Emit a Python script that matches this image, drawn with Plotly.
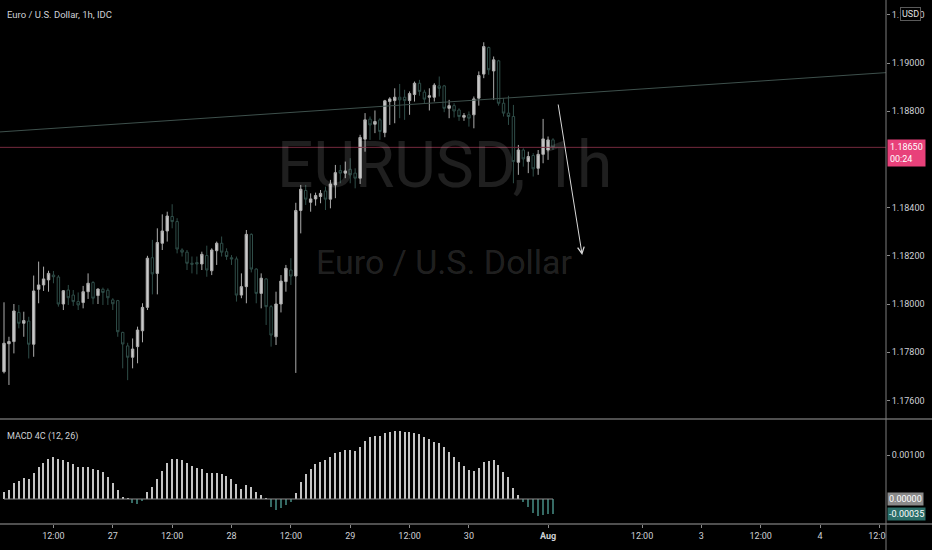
import plotly.graph_objects as go

# ---------------- data ----------------
opens = [1.17719, 1.17835, 1.17844, 1.17965, 1.17920, 1.17929, 1.17833, 1.18061, 1.18079, 1.18100,
         1.18120, 1.18112, 1.18000, 1.18058, 1.18037, 1.18010, 1.18006, 1.18051, 1.18089, 1.18035,
         1.18061, 1.18057, 1.18017, 1.18014, 1.17882, 1.17826, 1.17779, 1.17823, 1.17889, 1.17986,
         1.18192, 1.18127, 1.18252, 1.18303, 1.18363, 1.18342, 1.18224, 1.18215, 1.18169, 1.18172,
         1.18166, 1.18201, 1.18138, 1.18221, 1.18252, 1.18217, 1.18192, 1.18187, 1.18037, 1.18072,
         1.18289, 1.18145, 1.18044, 1.18104, 1.17989, 1.17864, 1.18000, 1.18093, 1.18141, 1.18116,
         1.18388, 1.18471, 1.18422, 1.18436, 1.18446, 1.18469, 1.18435, 1.18494, 1.18554, 1.18543,
         1.18559, 1.18543, 1.18522, 1.18684, 1.18767, 1.18746, 1.18764, 1.18711, 1.18840, 1.18844,
         1.18858, 1.18858, 1.18844, 1.18869, 1.18916, 1.18879, 1.18858, 1.18858, 1.18905, 1.18905,
         1.18812, 1.18823, 1.18805, 1.18775, 1.18785, 1.18785, 1.18854, 1.18954, 1.19064, 1.18967,
         1.19009, 1.18833, 1.18792, 1.18778, 1.18588, 1.18639, 1.18591, 1.18616, 1.18563, 1.18621,
         1.18639, 1.18681]
highs = [1.18007, 1.17864, 1.18000, 1.17996, 1.17968, 1.17947, 1.18118, 1.18176, 1.18155, 1.18138,
         1.18137, 1.18120, 1.18058, 1.18079, 1.18058, 1.18048, 1.18075, 1.18127, 1.18095, 1.18065,
         1.18068, 1.18065, 1.18024, 1.18017, 1.17885, 1.17839, 1.17857, 1.17906, 1.18003, 1.18200,
         1.18266, 1.18314, 1.18372, 1.18383, 1.18414, 1.18356, 1.18231, 1.18224, 1.18197, 1.18197,
         1.18217, 1.18242, 1.18231, 1.18259, 1.18280, 1.18231, 1.18203, 1.18197, 1.18127, 1.18307,
         1.18293, 1.18148, 1.18127, 1.18107, 1.17996, 1.18051, 1.18120, 1.18162, 1.18190, 1.18420,
         1.18494, 1.18494, 1.18459, 1.18462, 1.18473, 1.18487, 1.18515, 1.18577, 1.18577, 1.18591,
         1.18605, 1.18563, 1.18702, 1.18792, 1.18778, 1.18803, 1.18771, 1.18847, 1.18858, 1.18895,
         1.18913, 1.18889, 1.18882, 1.18923, 1.18930, 1.18889, 1.18895, 1.18916, 1.18944, 1.18909,
         1.18847, 1.18833, 1.18812, 1.18792, 1.18799, 1.18861, 1.18965, 1.19086, 1.19068, 1.19027,
         1.19013, 1.18854, 1.18864, 1.18826, 1.18660, 1.18646, 1.18632, 1.18626, 1.18639, 1.18768,
         1.18695, 1.18688]
lows = [1.17712, 1.17664, 1.17795, 1.17899, 1.17864, 1.17774, 1.17781, 1.18003, 1.18054, 1.18051,
        1.18086, 1.17989, 1.17975, 1.17996, 1.17992, 1.17975, 1.17982, 1.18021, 1.17999, 1.18000,
        1.17996, 1.17996, 1.17975, 1.17864, 1.17733, 1.17684, 1.17733, 1.17754, 1.17841, 1.17975,
        1.18040, 1.18040, 1.18224, 1.18259, 1.18314, 1.18210, 1.18197, 1.18141, 1.18127, 1.18123,
        1.18141, 1.18113, 1.18120, 1.18162, 1.18197, 1.18183, 1.18162, 1.18010, 1.18024, 1.18003,
        1.18131, 1.18003, 1.17982, 1.17913, 1.17823, 1.17830, 1.17965, 1.18051, 1.18079, 1.17714,
        1.18293, 1.18411, 1.18383, 1.18408, 1.18418, 1.18390, 1.18397, 1.18439, 1.18501, 1.18522,
        1.18501, 1.18480, 1.18498, 1.18632, 1.18681, 1.18709, 1.18681, 1.18692, 1.18743, 1.18750,
        1.18771, 1.18764, 1.18785, 1.18840, 1.18864, 1.18830, 1.18803, 1.18840, 1.18861, 1.18796,
        1.18771, 1.18774, 1.18760, 1.18760, 1.18736, 1.18729, 1.18823, 1.18937, 1.18951, 1.18847,
        1.18823, 1.18778, 1.18743, 1.18501, 1.18536, 1.18570, 1.18543, 1.18529, 1.18536, 1.18584,
        1.18598, 1.18639]
closes = [1.17837, 1.17844, 1.17971, 1.17920, 1.17931, 1.17833, 1.18054, 1.18079, 1.18104, 1.18127,
          1.18113, 1.18000, 1.18055, 1.18026, 1.18010, 1.17996, 1.18051, 1.18086, 1.18024, 1.18062,
          1.18048, 1.18026, 1.18001, 1.17885, 1.17834, 1.17779, 1.17813, 1.17892, 1.17986, 1.18190,
          1.18125, 1.18255, 1.18303, 1.18365, 1.18342, 1.18228, 1.18215, 1.18169, 1.18165, 1.18166,
          1.18206, 1.18141, 1.18224, 1.18252, 1.18215, 1.18197, 1.18187, 1.18037, 1.18072, 1.18289,
          1.18145, 1.18044, 1.18107, 1.17989, 1.17871, 1.18000, 1.18095, 1.18148, 1.18116, 1.18388,
          1.18476, 1.18435, 1.18436, 1.18450, 1.18459, 1.18435, 1.18498, 1.18545, 1.18543, 1.18552,
          1.18536, 1.18522, 1.18691, 1.18764, 1.18743, 1.18757, 1.18716, 1.18843, 1.18851, 1.18858,
          1.18847, 1.18844, 1.18873, 1.18916, 1.18882, 1.18850, 1.18864, 1.18908, 1.18895, 1.18812,
          1.18823, 1.18801, 1.18778, 1.18782, 1.18771, 1.18851, 1.18948, 1.19068, 1.18972, 1.19013,
          1.18833, 1.18792, 1.18778, 1.18591, 1.18639, 1.18602, 1.18612, 1.18561, 1.18621, 1.18685,
          1.18681, 1.18650]

macd_hist = [0.000167, 0.000205, 0.000356, 0.000417, 0.000485, 0.000455, 0.000599, 0.000720, 0.000826, 0.000910,
             0.000963, 0.000902, 0.000887, 0.000849, 0.000796, 0.000735, 0.000720, 0.000720, 0.000675, 0.000659,
             0.000614, 0.000508, 0.000356, 0.000205, 0.000038, 0.000008, -0.000083, -0.000121, -0.000045, 0.000159,
             0.000265, 0.000447, 0.000637, 0.000811, 0.000910, 0.000910, 0.000887, 0.000811, 0.000750, 0.000697,
             0.000675, 0.000599, 0.000599, 0.000599, 0.000569, 0.000531, 0.000455, 0.000341, 0.000227, 0.000318,
             0.000265, 0.000167, 0.000091, 0.000015, -0.000174, -0.000250, -0.000212, -0.000136, -0.000061, 0.000144,
             0.000394, 0.000569, 0.000682, 0.000796, 0.000849, 0.000887, 0.000963, 0.001038, 0.001076, 0.001114,
             0.001114, 0.001099, 0.001190, 0.001319, 0.001402, 0.001433, 0.001433, 0.001493, 0.001524, 0.001554,
             0.001554, 0.001531, 0.001524, 0.001508, 0.001478, 0.001417, 0.001357, 0.001304, 0.001281, 0.001175,
             0.001076, 0.000963, 0.000849, 0.000750, 0.000659, 0.000644, 0.000697, 0.000834, 0.000864, 0.000887,
             0.000773, 0.000622, 0.000493, 0.000243, 0.000091, -0.000061, -0.000174, -0.000326, -0.000379, -0.000364,
             -0.000349, -0.000349]

bar_index = list(range(len(opens)))

xtick_pos = [10, 22, 34, 46, 58, 70, 82, 94, 110, 129, 141, 153, 165, 177]
xtick_text = ["12:00", "27", "12:00", "28", "12:00", "29", "12:00", "30", "<b>Aug</b>",
              "12:00", "3", "12:00", "4", "12:00"]
# 1.18600 is hidden behind the last-price label in the reference
price_ticks = [1.176, 1.178, 1.180, 1.182, 1.184, 1.188, 1.190, 1.192]
macd_ticks = [0.001]

trend_x = [-0.81, 178.33]
trend_y = [1.18714, 1.18960]
arrow_x = [112.0, 116.9]
arrow_y = [1.18834, 1.18203]

x_range = [-0.81, 178.33]
price_range = [1.175228, 1.192614]
macd_range = [-0.000568, 0.001818]

# ---------------- styling ----------------
W, H = 932, 550
ML, MR, MT, MB = 0, 46, 0, 26
PW, PH = W - ML - MR, H - MT - MB
split = 105 / PH
FONT = "Roboto, Liberation Sans, sans-serif"
TXT = "#cfd1d6"
LINE = "#9e9e9e"

pos_col = "#c4c4c4"
neg_col = "#356a64"
bar_colors = [pos_col if v >= 0 else neg_col for v in macd_hist]

fig = go.Figure()

fig.add_trace(go.Candlestick(
    x=bar_index, open=opens, high=highs, low=lows, close=closes,
    increasing=dict(line=dict(color="#acacac", width=1), fillcolor="#cacaca"),
    decreasing=dict(line=dict(color="#2f4d48", width=1), fillcolor="#000000"),
    whiskerwidth=0, hoverinfo="skip", xaxis="x", yaxis="y", showlegend=False,
))

fig.add_trace(go.Bar(
    x=bar_index, y=macd_hist, marker=dict(color=bar_colors, line=dict(width=0)),
    width=0.25, xaxis="x", yaxis="y2", showlegend=False, hoverinfo="skip",
))

shapes = [
    dict(type="line", xref="x", yref="y2", x0=bar_index[0], x1=bar_index[-1], y0=0, y1=0,
         line=dict(color="#8c8c8c", width=1)),
    dict(type="line", xref="paper", yref="y", x0=0, x1=1, y0=closes[-1], y1=closes[-1],
         line=dict(color="#742a3e", width=1)),
    dict(type="line", xref="x", yref="y", x0=trend_x[0], x1=trend_x[1], y0=trend_y[0], y1=trend_y[1],
         line=dict(color="#3e504c", width=1)),
    dict(type="rect", xref="paper", yref="paper", x0=1, x1=W / PW, y0=-MB / PH, y1=0,
         fillcolor="#000000", line=dict(width=0), layer="above"),
    dict(type="line", xref="paper", yref="paper", x0=0, x1=W / PW, y0=split, y1=split,
         line=dict(color=LINE, width=1), layer="above"),
    dict(type="line", xref="paper", yref="paper", x0=0, x1=W / PW, y0=0, y1=0,
         line=dict(color=LINE, width=1), layer="above"),
    dict(type="line", xref="paper", yref="paper", x0=1, x1=1, y0=-MB / PH, y1=1,
         line=dict(color="#7d7d7d", width=1), layer="above"),
]

annotations = [
    dict(text="EURUSD, 1h", xref="paper", yref="paper", x=445 / PW, y=1 - 166 / PH,
         xanchor="center", yanchor="middle",
         showarrow=False, font=dict(family=FONT, size=64, color="rgba(255,255,255,0.12)")),
    dict(text="Euro / U.S. Dollar", xref="paper", yref="paper", x=444 / PW, y=1 - 262 / PH,
         xanchor="center", yanchor="middle",
         showarrow=False, font=dict(family=FONT, size=34, color="rgba(255,255,255,0.14)")),
    dict(text="Euro / U.S. Dollar, 1h, IDC", xref="paper", yref="paper", x=5 / PW, y=1 - 15 / PH,
         xanchor="left", yanchor="middle", showarrow=False, font=dict(family=FONT, size=9.5, color=TXT)),
    dict(text="MACD 4C (12, 26)", xref="paper", yref="paper", x=5 / PW, y=1 - 436 / PH,
         xanchor="left", yanchor="middle", showarrow=False, font=dict(family=FONT, size=9, color=TXT)),
    dict(text="USD", xref="paper", yref="paper", x=900 / PW, y=1 - 14 / PH, xanchor="left", yanchor="middle",
         showarrow=False, font=dict(family=FONT, size=9, color="#e0e0e0"), bgcolor="#000000",
         bordercolor="#5a5a5a", borderwidth=1, borderpad=1),
    dict(text=f"{closes[-1]:.5f}<br>00:24", xref="paper", yref="y", x=887 / PW, y=closes[-1],
         xanchor="left", yanchor="top", yshift=8, align="left", showarrow=False,
         font=dict(family=FONT, size=9, color="#ffffff"), bgcolor="#e8417a", borderpad=2),
    dict(text=f"{0:.5f}", xref="paper", yref="y2", x=887 / PW, y=0, xanchor="left", yanchor="middle",
         showarrow=False, font=dict(family=FONT, size=9, color="#ffffff"), bgcolor="#8a8a8a", borderpad=1),
    dict(text=f"{macd_hist[-1]:.5f}", xref="paper", yref="y2", x=887 / PW, y=macd_hist[-1],
         xanchor="left", yanchor="middle", showarrow=False,
         font=dict(family=FONT, size=9, color="#ffffff"), bgcolor="#2b6e68", borderpad=1),
    dict(text="", x=arrow_x[1], y=arrow_y[1], ax=arrow_x[0], ay=arrow_y[0], xref="x", yref="y",
         axref="x", ayref="y", showarrow=True, arrowhead=5, arrowsize=1.3, arrowwidth=1,
         arrowcolor="#d8d8d8", standoff=0, startstandoff=0),
]

fig.update_layout(
    width=W, height=H,
    margin=dict(l=ML, r=MR, t=MT, b=MB, pad=0),
    paper_bgcolor="#000000", plot_bgcolor="#000000",
    font=dict(family=FONT, size=9, color=TXT),
    showlegend=False, bargap=0,
    shapes=shapes, annotations=annotations,
    xaxis=dict(domain=[0, 1], range=x_range, anchor="y2", showgrid=False, zeroline=False,
               tickmode="array", tickvals=xtick_pos, ticktext=xtick_text,
               ticks="outside", ticklen=3, tickcolor="#8a8a8a",
               tickfont=dict(family=FONT, size=9, color=TXT),
               rangeslider=dict(visible=False), showline=False, fixedrange=True),
    yaxis=dict(domain=[split, 1], range=price_range, side="right", anchor="x", showgrid=False,
               zeroline=False, tickmode="array", tickvals=price_ticks, tickformat=".5f",
               ticks="outside", ticklen=3, tickcolor="#8a8a8a",
               tickfont=dict(family=FONT, size=9, color=TXT), showline=False),
    yaxis2=dict(domain=[0, split], range=macd_range, side="right", anchor="x", showgrid=False,
                zeroline=False, tickmode="array", tickvals=macd_ticks, tickformat=".5f",
                ticks="outside", ticklen=3, tickcolor="#8a8a8a",
                tickfont=dict(family=FONT, size=9, color=TXT), showline=False),
)

fig.write_html("out.html", config={"displayModeBar": False},
               post_script="document.body.style.margin='0px';document.body.style.background='#000';")
